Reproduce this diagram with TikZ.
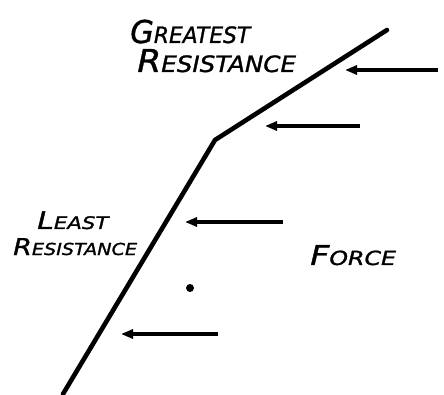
\documentclass[tikz,border=0pt]{standalone}
\usepackage{fontspec}
\setmainfont{DejaVu Sans}[ItalicFeatures={FakeBold=1.2}]
\usetikzlibrary{arrows.meta}
\newcommand{\hcap}[2]{{\fontsize{21}{21}\selectfont #1}{\fontsize{15}{15}\selectfont #2}}
\tikzset{
  wall/.style={line width=4.6pt, line join=round, line cap=round},
  force/.style={line width=3.2pt, -{Triangle[length=12pt,width=9pt]}},
  lbl/.style={font=\itshape, inner sep=0pt, text=black, transform shape, anchor=base west},
}
\begin{document}
\begin{tikzpicture}[x=1pt,y=-1pt]
\useasboundingbox (0,0) rectangle (444,395);
\coordinate (top) at (387,30);
\coordinate (bend) at (215,140);
\coordinate (bot) at (63,394);
\draw[wall] (top) -- (bend) -- (bot);
% force arrows
\coordinate (a1s) at (438,70);  \coordinate (a1e) at (345,70);
\coordinate (a2s) at (360,126); \coordinate (a2e) at (265,126);
\coordinate (a3s) at (283,222); \coordinate (a3e) at (185,222);
\coordinate (a4s) at (218,334); \coordinate (a4e) at (121,334);
\draw[force] (a1s) -- (a1e);
\draw[force] (a2s) -- (a2e);
\draw[force] (a3s) -- (a3e);
\draw[force] (a4s) -- (a4e);
% dot
\fill (190,288) circle (4pt) coordinate (dot);
% labels
\node[lbl, xscale=1.45, yscale=1.5] (g1) at (130,43) {\hcap{G}{REATEST}};
\node[lbl, xscale=1.64, yscale=1.5] (g2) at (137,72) {\hcap{R}{ESISTANCE}};
\node[lbl, xscale=1.42, yscale=1.15] (l1) at (37,229) {\hcap{L}{EAST}};
\node[lbl, xscale=1.28, yscale=1.1] (l2) at (13,255) {\hcap{R}{ESISTANCE}};
\node[lbl, xscale=1.58, yscale=1.3] (f) at (310,265) {\hcap{F}{ORCE}};
\end{tikzpicture}
\end{document}
